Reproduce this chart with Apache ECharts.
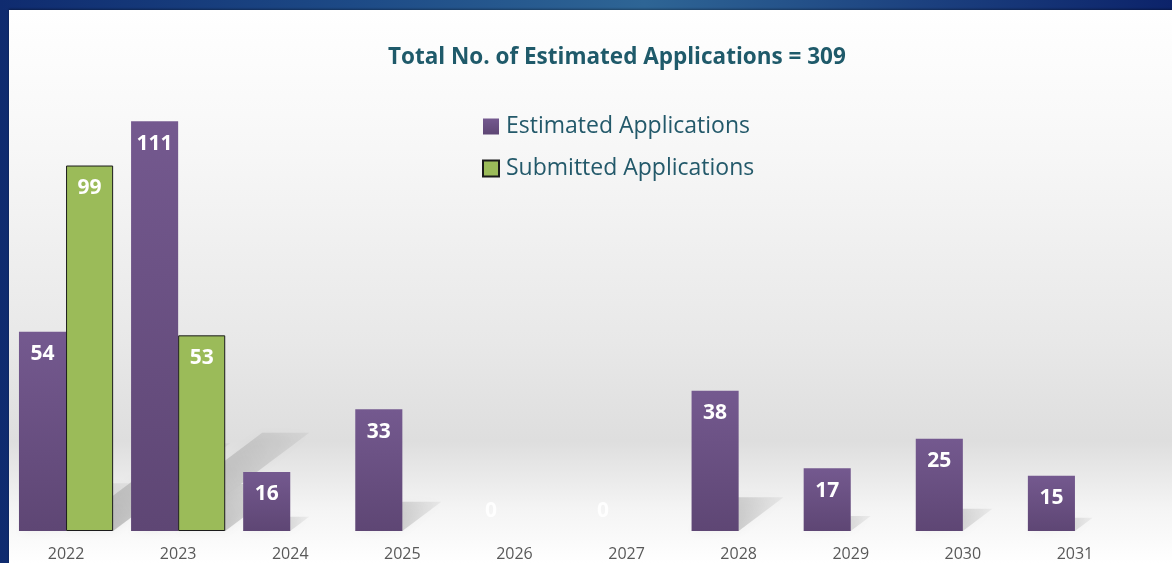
<!DOCTYPE html>
<html>
<head>
<meta charset="utf-8">
<script src="https://cdn.jsdelivr.net/npm/echarts@6/dist/echarts.min.js"></script>
<style>
  html, body { margin: 0; padding: 0; }
  body {
    width: 1172px; height: 563px; overflow: hidden; position: relative;
    background: linear-gradient(90deg, #0f2b6f 0%, #1d4a86 30%, #2e6595 55%, #1b3f7e 80%, #0c236a 100%);
  }
  #chart {
    position: absolute; left: 9px; top: 10px; width: 1163px; height: 553px;
    background: linear-gradient(180deg, #ffffff 0%, #f7f7f7 25%, #e8e8e8 60%, #dedede 78%, #f4f4f4 90%, #ffffff 100%);
    box-shadow: 0 -1px 2px rgba(0,0,0,0.35);
  }
</style>
</head>
<body>
<div id="chart"></div>
<script>
const years = ['2022', '2023', '2024', '2025', '2026', '2027', '2028', '2029', '2030', '2031'];
const estimated = [54, 111, 16, 33, 0, 0, 38, 17, 25, 15];
const submitted = [99, 53, null, null, null, null, null, null, null, null];
const titleText = 'Total No. of Estimated Applications = 309';

const chart = echarts.init(document.getElementById('chart'));

const purple = new echarts.graphic.LinearGradient(0, 0, 0, 1, [
  { offset: 0, color: '#74598f' },
  { offset: 1, color: '#5e4674' },
]);

function labelFor(v) {
  if (v === 0) {
    return {
      value: 0,
      label: { position: 'top', distance: 9, color: 'rgba(255,255,255,0.85)' },
    };
  }
  return v;
}

// soft slanted shadow behind each bar
function shadowSeries(values, idx) {
  return {
    type: 'custom',
    z: 1,
    silent: true,
    data: values.map((v, i) => [i, v]),
    renderItem: function(params, api) {
      const v = api.value(1);
      if (!v) return null;
      const base = api.coord([api.value(0), 0]);
      const top = api.coord([api.value(0), v]);
      const h = base[1] - top[1];
      const band = api.size([1, 0])[0];
      const w = band * 0.84 / 2;
      const x0 = base[0] - band * 0.84 / 2 + idx * w;
      const x1 = x0 + w;
      const dx = h * 0.32;
      const dy = h * 0.24;
      return {
        type: 'polygon',
        shape: {
          points: [[x0, base[1]], [x1, base[1]], [x1 + dx, base[1] - dy], [x0 + dx, base[1] - dy]],
        },
        style: {
          fill: new echarts.graphic.LinearGradient(0, 1, 1, 0, [
            { offset: 0, color: 'rgba(0,0,0,0.26)' },
            { offset: 1, color: 'rgba(0,0,0,0.04)' },
          ]),
          shadowBlur: 10,
          shadowColor: 'rgba(0,0,0,0.2)',
        },
      };
    },
  };
}

const option = {
  animation: false,
  title: {
    text: titleText,
    left: 379,
    top: 36,
    padding: 0,
    textStyle: {
      color: '#1f5a6a',
      fontFamily: 'Open Sans',
      fontWeight: 'bold',
      fontSize: 22.5,
    },
  },
  legend: {
    orient: 'vertical',
    left: 473,
    top: 105,
    padding: 0,
    itemWidth: 16,
    itemHeight: 16,
    itemGap: 19,
    icon: 'rect',
    data: ['Estimated Applications', 'Submitted Applications'],
    textStyle: {
      color: '#23596a',
      fontFamily: 'Open Sans',
      fontSize: 23,
      padding: [0, 0, 0, 2],
    },
  },
  grid: {
    left: 1,
    right: 41,
    top: 78,
    bottom: 32,
  },
  xAxis: {
    type: 'category',
    data: years,
    axisLine: { show: false },
    axisTick: { show: false },
    axisLabel: {
      color: '#595959',
      fontFamily: 'Open Sans',
      fontSize: 16,
      margin: 15,
    },
  },
  yAxis: {
    type: 'value',
    min: 0,
    max: 120,
    show: false,
  },
  series: [
    shadowSeries(estimated, 0),
    shadowSeries(submitted, 1),
    {
      name: 'Estimated Applications',
      type: 'bar',
      z: 3,
      data: estimated.map(labelFor),
      barGap: 0,
      barCategoryGap: '16%',
      itemStyle: { color: purple },
      label: {
        show: true,
        position: 'insideTop',
        distance: 12,
        color: '#ffffff',
        fontFamily: 'Open Sans',
        fontWeight: 'bold',
        fontSize: 21,
      },
    },
    {
      name: 'Submitted Applications',
      type: 'bar',
      z: 3,
      data: submitted,
      barGap: 0,
      barCategoryGap: '16%',
      itemStyle: { color: '#9bbb59', borderColor: '#1a1a1a', borderWidth: 1 },
      label: {
        show: true,
        position: 'insideTop',
        distance: 12,
        color: '#ffffff',
        fontFamily: 'Open Sans',
        fontWeight: 'bold',
        fontSize: 21,
      },
    },
  ],
};

chart.setOption(option);
</script>
</body>
</html>
